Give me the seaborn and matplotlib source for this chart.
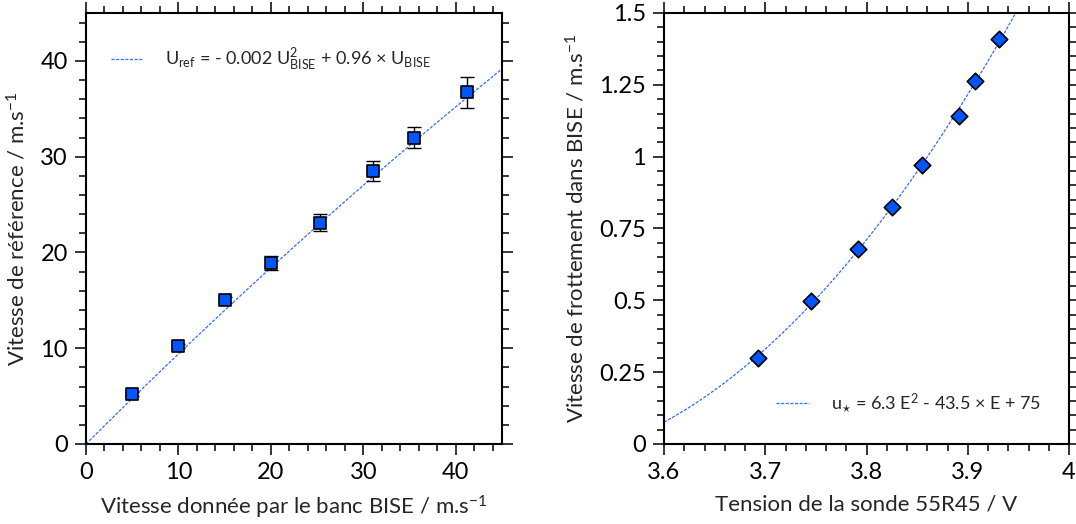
import numpy as np
import pandas as pd
import matplotlib
matplotlib.use('Agg')
import matplotlib.pyplot as plt
import seaborn as sns
from matplotlib.ticker import MultipleLocator

# Données
v_bise = [5.0, 10.0, 15.0, 20.0, 25.3, 31.0, 35.5, 41.2]
v_ref = [5.2, 10.2, 15.0, 18.9, 23.1, 28.5, 32.0, 36.7]
v_ref_err = [0.2, 0.2, 0.3, 0.7, 0.9, 1.0, 1.1, 1.6]

tension = [3.693, 3.745, 3.792, 3.825, 3.855, 3.891, 3.907, 3.931]
u_star = [0.300, 0.499, 0.680, 0.824, 0.972, 1.143, 1.262, 1.410]

# coefficients de l'ajustement affiché (gauche)
fit_a, fit_b = -0.002, 0.96

BLUE = '#0055ff'
LINE = '#2f6fff'

sns.set_theme(style="white")
plt.rcParams['font.family'] = ['Lato', 'DejaVu Sans']
plt.rcParams['mathtext.fontset'] = 'custom'
plt.rcParams['mathtext.rm'] = 'Lato'
plt.rcParams['mathtext.it'] = 'Lato:italic'
plt.rcParams['mathtext.bf'] = 'Lato:bold'


def style_axes(ax, major_x, minor_x, major_y, minor_y):
    ax.xaxis.set_major_locator(MultipleLocator(major_x))
    ax.xaxis.set_minor_locator(MultipleLocator(minor_x))
    ax.yaxis.set_major_locator(MultipleLocator(major_y))
    ax.yaxis.set_minor_locator(MultipleLocator(minor_y))
    ax.tick_params(which='both', direction='out', top=True, right=True,
                   bottom=True, left=True, color='black', width=1.1)
    ax.tick_params(which='major', length=8, labelsize=17, pad=5)
    ax.tick_params(which='minor', length=5)
    ax.tick_params(labelcolor='black')
    for sp in ax.spines.values():
        sp.set_visible(True)
        sp.set_color('black')
        sp.set_linewidth(1.5)
    ax.grid(False)


fig = plt.figure(figsize=(10.76, 5.24), dpi=100)
ax1 = fig.add_axes([0.0799, 0.1527, 0.3866, 0.8225])
ax2 = fig.add_axes([0.6171, 0.1527, 0.3764, 0.8225])

# --- Panneau gauche
xfit = np.linspace(0, 45, 200)
df_fit1 = pd.DataFrame({'x': xfit, 'y': fit_a * xfit ** 2 + fit_b * xfit})
sns.lineplot(data=df_fit1, x='x', y='y', ax=ax1, color=LINE, lw=0.9,
             linestyle=(0, (2.5, 1.2)),
             label=r'U$_{\rm ref}$ = - 0.002 U$^{2}_{\rm BISE}$ + 0.96 × U$_{\rm BISE}$')
ax1.errorbar(v_bise, v_ref, yerr=v_ref_err, fmt='none', ecolor='black',
             elinewidth=1.0, capsize=5, capthick=1.0, zorder=3)
df1 = pd.DataFrame({'x': v_bise, 'y': v_ref})
sns.scatterplot(data=df1, x='x', y='y', ax=ax1, marker='s', s=75,
                color=BLUE, edgecolor='black', linewidth=1.2, zorder=4)
ax1.set_xlim(0, 45)
ax1.set_ylim(0, 45)
style_axes(ax1, 10, 2, 10, 2)
ax1.set_xlabel(r'Vitesse donnée par le banc BISE / m.s$^{-1}$', fontsize=16, labelpad=8)
ax1.set_ylabel(r'Vitesse de référence / m.s$^{-1}$', fontsize=16, labelpad=8)
ax1.legend(loc='upper left', frameon=False, fontsize=13, handlelength=1.8,
           handletextpad=1.2, bbox_to_anchor=(0.02, 0.96))

# --- Panneau droit
coef = np.polyfit(tension, u_star, 2)
efit = np.linspace(3.6, 3.96, 200)
df_fit2 = pd.DataFrame({'x': efit, 'y': np.polyval(coef, efit)})
sns.lineplot(data=df_fit2, x='x', y='y', ax=ax2, color=LINE, lw=0.9,
             linestyle=(0, (2.5, 1.2)),
             label=r'u$_{\star}$ = 6.3 E$^{2}$ - 43.5 × E + 75')
df2 = pd.DataFrame({'x': tension, 'y': u_star})
sns.scatterplot(data=df2, x='x', y='y', ax=ax2, marker='D', s=70,
                color=BLUE, edgecolor='black', linewidth=1.2, zorder=4)
ax2.set_xlim(3.6, 4.0)
ax2.set_ylim(0, 1.5)
style_axes(ax2, 0.1, 0.02, 0.25, 0.05)
ax2.set_yticks([0, 0.25, 0.5, 0.75, 1, 1.25, 1.5])
ax2.set_yticklabels(['0', '0.25', '0.5', '0.75', '1', '1.25', '1.5'])
ax2.set_xticks([3.6, 3.7, 3.8, 3.9, 4.0])
ax2.set_xticklabels(['3.6', '3.7', '3.8', '3.9', '4'])
ax2.set_xlabel('Tension de la sonde 55R45 / V', fontsize=16, labelpad=8)
ax2.set_ylabel(r'Vitesse de frottement dans BISE / m.s$^{-1}$', fontsize=16, labelpad=8)
ax2.legend(loc='lower right', frameon=False, fontsize=13, handlelength=1.8,
           handletextpad=1.2, bbox_to_anchor=(0.97, 0.03))

fig.savefig('out.png', dpi=100)
plt.close(fig)
